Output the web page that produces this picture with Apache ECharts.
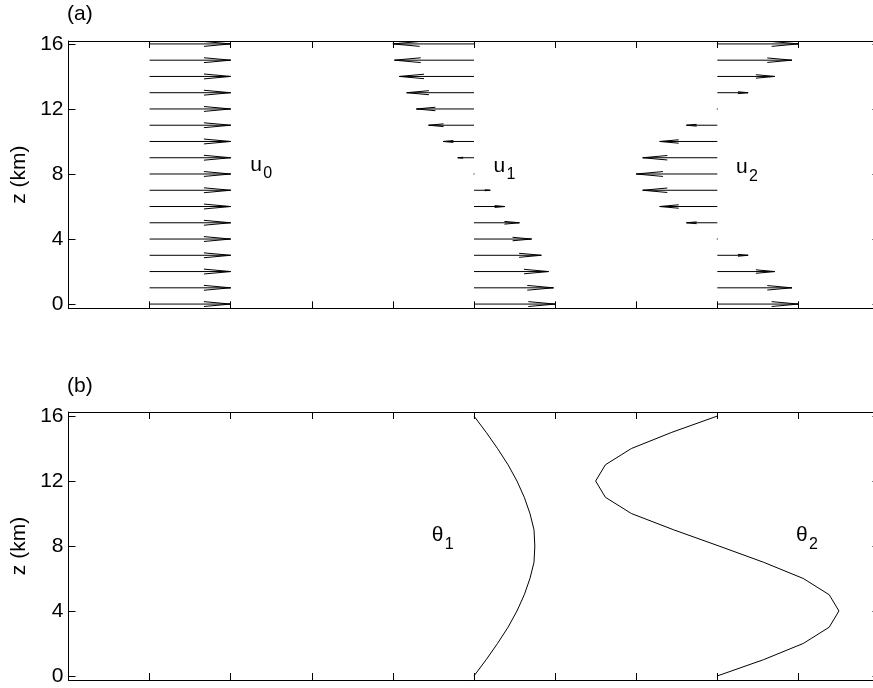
<!DOCTYPE html>
<html>
<head>
<meta charset="utf-8">
<script src="https://cdn.jsdelivr.net/npm/echarts@6/dist/echarts.min.js"></script>
<style>
  html, body { margin: 0; padding: 0; background: #fff; }
  #chart { width: 873px; height: 688px; }
</style>
</head>
<body>
<div id="chart"></div>
<script>
// heights (km) where the arrows / profile points sit
var zLevels = [0, 1, 2, 3, 4, 5, 6, 7, 8, 9, 10, 11, 12, 13, 14, 15, 16];
// wind components (arrow length, x units)
var u0 = [1, 1, 1, 1, 1, 1, 1, 1, 1, 1, 1, 1, 1, 1, 1, 1, 1];
var u1 = [1.00, 0.98, 0.92, 0.83, 0.71, 0.56, 0.38, 0.20, 0.00, -0.20, -0.38, -0.56, -0.71, -0.83, -0.92, -0.98, -1.00];
var u2 = [1.00, 0.92, 0.71, 0.38, 0.00, -0.38, -0.71, -0.92, -1.00, -0.92, -0.71, -0.38, 0.00, 0.38, 0.71, 0.92, 1.00];
// where each column of arrows starts on the x axis
var arrowBase = [1, 5, 8];
// potential temperature profiles (x position)
var theta1 = [5.00, 5.15, 5.29, 5.42, 5.53, 5.62, 5.69, 5.74, 5.75, 5.74, 5.69, 5.62, 5.53, 5.42, 5.29, 5.15, 5.00];
var theta2 = [8.00, 8.57, 9.06, 9.38, 9.50, 9.38, 9.06, 8.57, 8.02, 7.46, 6.94, 6.62, 6.50, 6.62, 6.94, 7.44, 8.00];
var yTicks = [0, 4, 8, 12, 16];
// labels: [x, z, main text, subscript]
var topLabels = [[2.24, 8.56, 'u', '0'], [5.24, 8.49, 'u', '1'], [8.23, 8.40, 'u', '2']];
var bottomLabels = [[4.48, 8.65, 'θ', '1'], [8.97, 8.65, 'θ', '2']];

var FONT = '"Liberation Sans", Arial, sans-serif';

var arrowData = [];
[u0, u1, u2].forEach(function (u, k) {
    zLevels.forEach(function (z, i) {
        arrowData.push([arrowBase[k], z, u[i]]);
    });
});

function renderArrow(params, api) {
    var x0 = api.value(0), z = api.value(1), u = api.value(2);
    var p0 = api.coord([x0, z]);
    var p1 = api.coord([x0 + u, z]);
    var dx = p1[0] - p0[0];
    if (Math.abs(dx) < 0.5) {
        return { type: 'rect', shape: { x: p0[0] - 0.5, y: p0[1] - 0.5, width: 1, height: 1 }, style: { fill: '#000' } };
    }
    var hx = p1[0] - 0.33 * dx;
    var hw = 0.03 * Math.abs(dx);
    return {
        type: 'group',
        children: [
            { type: 'line', shape: { x1: p0[0], y1: p0[1], x2: p1[0], y2: p1[1] },
              style: { stroke: '#000', lineWidth: 1 } },
            { type: 'polyline', shape: { points: [[hx, p1[1] - hw], [p1[0], p1[1]], [hx, p1[1] + hw]] },
              style: { stroke: '#000', lineWidth: 1, fill: null } }
        ]
    };
}

function renderLabel(params, api) {
    var p = api.coord([api.value(0), api.value(1)]);
    var item = params.dataIndexInside;
    var lab = params.seriesName === 'topLabels' ? topLabels[item] : bottomLabels[item];
    return {
        type: 'group',
        children: [
            { type: 'text', x: p[0], y: p[1],
              style: { text: lab[2], fill: '#000', font: '21px ' + FONT, align: 'left', verticalAlign: 'middle' } },
            { type: 'text', x: p[0] + 13, y: p[1] + 9,
              style: { text: lab[3], fill: '#000', font: '16px ' + FONT, align: 'left', verticalAlign: 'middle' } }
        ]
    };
}

function xAx(grid, pos) {
    return {
        type: 'value', gridIndex: grid, position: pos, min: 0, max: 10, interval: 1,
        axisLine: { show: true, onZero: false, lineStyle: { color: '#000', width: 1 } },
        axisTick: { show: true, inside: true, length: 7, lineStyle: { color: '#000' } },
        axisLabel: { show: false }, splitLine: { show: false }
    };
}
function yAx(grid, pos, min, max, withLabels) {
    return {
        type: 'value', gridIndex: grid, position: pos, min: min, max: max,
        name: withLabels ? 'z (km)' : '', nameLocation: 'middle', nameGap: 38,
        nameTextStyle: { color: '#000', fontSize: 21, fontFamily: FONT },
        axisLine: { show: true, onZero: false, lineStyle: { color: '#000', width: 1 } },
        axisTick: { show: true, inside: true, length: 7, customValues: yTicks, lineStyle: { color: '#000' } },
        axisLabel: { show: withLabels, customValues: yTicks, color: '#000', fontSize: 21, fontFamily: FONT, margin: 5 },
        splitLine: { show: false }
    };
}

var chart = echarts.init(document.getElementById('chart'));
chart.setOption({
    animation: false,
    backgroundColor: '#fff',
    title: [
        { text: '(a)', left: 67, top: 4, padding: 0, textStyle: { fontSize: 21, fontWeight: 'normal', color: '#000', fontFamily: FONT } },
        { text: '(b)', left: 67, top: 376, padding: 0, textStyle: { fontSize: 21, fontWeight: 'normal', color: '#000', fontFamily: FONT } }
    ],
    grid: [
        { left: 68.5, top: 41, width: 811, height: 267.3, outerBoundsMode: 'none' },
        { left: 68.5, top: 412, width: 811, height: 268, outerBoundsMode: 'none' }
    ],
    xAxis: [xAx(0, 'bottom'), xAx(0, 'top'), xAx(1, 'bottom'), xAx(1, 'top')],
    yAxis: [
        yAx(0, 'left', -0.26, 16.18, true), yAx(0, 'right', -0.26, 16.18, false),
        yAx(1, 'left', -0.25, 16.25, true), yAx(1, 'right', -0.25, 16.25, false)
    ],
    series: [
        { type: 'custom', name: 'arrows', xAxisIndex: 0, yAxisIndex: 0, renderItem: renderArrow,
          encode: { x: 0, y: 1 }, data: arrowData, silent: true },
        { type: 'custom', name: 'topLabels', xAxisIndex: 0, yAxisIndex: 0, renderItem: renderLabel,
          encode: { x: 0, y: 1 }, data: topLabels.map(function (d) { return [d[0], d[1]]; }), silent: true },
        { type: 'line', name: 'theta1', xAxisIndex: 2, yAxisIndex: 2, showSymbol: false,
          lineStyle: { color: '#000', width: 1 }, data: zLevels.map(function (z, i) { return [theta1[i], z]; }), silent: true },
        { type: 'line', name: 'theta2', xAxisIndex: 2, yAxisIndex: 2, showSymbol: false,
          lineStyle: { color: '#000', width: 1 }, data: zLevels.map(function (z, i) { return [theta2[i], z]; }), silent: true },
        { type: 'custom', name: 'bottomLabels', xAxisIndex: 2, yAxisIndex: 2, renderItem: renderLabel,
          encode: { x: 0, y: 1 }, data: bottomLabels.map(function (d) { return [d[0], d[1]]; }), silent: true }
    ]
});
</script>
</body>
</html>
